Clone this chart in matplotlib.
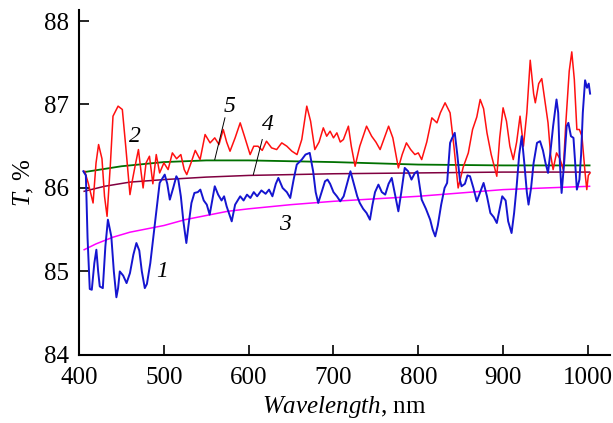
import matplotlib
matplotlib.use("Agg")
import matplotlib.pyplot as plt

plt.rcParams['font.family'] = ['Liberation Serif', 'DejaVu Serif']
plt.rcParams['mathtext.fontset'] = 'custom'
plt.rcParams['mathtext.rm'] = 'Liberation Serif'
plt.rcParams['mathtext.it'] = 'Liberation Serif:italic'

# curve 2 (red)
red_wl = [406.7, 411, 416.5, 420, 423, 427, 430, 433, 437, 440, 446, 451, 455, 460, 463, 466, 470, 473,
          475.5, 479, 483, 487, 491, 495, 500, 505, 510, 515, 520, 524, 527, 532, 537, 542.7, 548.6,
          554.5, 560, 565, 570, 574, 578, 584, 590, 595, 601.7, 606, 611, 616, 621, 627, 633, 639, 645,
          651, 657, 662.6, 668.5, 673, 678, 683, 688, 692, 696, 700, 704, 708, 711.7, 717.6, 721, 725.5,
          731, 735, 739, 745, 750, 755, 760, 765, 770, 776.5, 781, 786, 791, 796, 800, 804, 810, 816,
          822, 826, 831.6, 837.5, 842, 847, 853, 859, 864, 869, 873, 877, 881, 886, 892.6, 896, 900,
          904, 908, 912, 916, 920, 924, 928, 932, 936, 938, 942, 945.6, 950, 953, 956, 959, 963, 967,
          971, 974, 978, 981, 984, 987, 990, 993, 996.7, 998.7, 1000.5, 1002.6]
red_t = [86.20, 86.05, 85.82, 86.30, 86.52, 86.35, 85.90, 85.66, 86.30, 86.86, 86.98, 86.94, 86.50, 85.92,
         86.10, 86.26, 86.46, 86.20, 86.00, 86.30, 86.38, 86.05, 86.40, 86.18, 86.30, 86.22, 86.42, 86.35,
         86.40, 86.22, 86.16, 86.30, 86.45, 86.34, 86.64, 86.54, 86.60, 86.52, 86.70, 86.55, 86.44, 86.60,
         86.78, 86.62, 86.40, 86.50, 86.50, 86.45, 86.56, 86.48, 86.46, 86.54, 86.50, 86.44, 86.40, 86.58,
         86.98, 86.80, 86.46, 86.55, 86.72, 86.62, 86.68, 86.60, 86.66, 86.55, 86.58, 86.74, 86.50, 86.26,
         86.50, 86.62, 86.74, 86.62, 86.55, 86.46, 86.60, 86.74, 86.60, 86.24, 86.40, 86.54, 86.46, 86.40,
         86.42, 86.34, 86.55, 86.84, 86.78, 86.90, 87.02, 86.90, 86.50, 86.00, 86.25, 86.42, 86.70, 86.85,
         87.06, 86.95, 86.66, 86.40, 86.14, 86.60, 86.96, 86.80, 86.50, 86.34, 86.55, 86.86, 86.50, 86.90,
         87.53, 87.13, 87.02, 87.25, 87.31, 87.00, 86.78, 86.40, 86.22, 86.42, 86.35, 86.22, 86.78, 87.40,
         87.63, 87.30, 86.70, 86.70, 86.62, 86.18, 85.98, 86.15, 86.18]

# curve 1 (blue)
blue_wl = [405, 408, 410, 412.6, 415, 418, 420.4, 422.5, 424.4, 428, 431, 434, 438, 441, 444, 446, 448, 452,
           456, 460, 464, 467.6, 471, 474, 477.5, 480, 484, 489, 495, 501, 504, 507, 511, 514.7, 517, 520,
           523, 526.5, 529, 532.5, 536, 540, 543, 547, 550.6, 554, 557, 560, 564, 568, 571, 574, 580, 584,
           590, 594, 598, 602, 606, 610, 615, 620, 624, 628, 632, 635, 640, 645, 649, 653, 656.7, 662.6,
           667, 672, 676, 679, 682, 686, 690, 693, 696, 700, 704, 708, 712, 716, 720, 724, 728, 731, 735,
           739, 743, 746, 749, 753, 757, 761, 765, 768.7, 772, 776.5, 780, 784, 788, 792, 796, 799, 804,
           809, 814, 817, 820, 823, 827, 831, 834, 837.5, 840, 843, 846, 849, 851, 855, 858, 861, 865, 869,
           873, 877, 881, 885, 889, 892.6, 896, 899, 903, 906, 910, 913, 916, 919, 922, 925, 928, 930, 933,
           936, 940, 943.6, 947, 950, 953, 956, 959, 963, 965, 967, 969, 972, 975, 977, 980, 983, 985, 987,
           990, 992, 994, 996.7, 999, 1001, 1002.6]
blue_t = [86.20, 86.15, 85.40, 84.79, 84.78, 85.10, 85.26, 85.00, 84.82, 84.80, 85.30, 85.62, 85.42, 85.00,
          84.69, 84.80, 85.00, 84.95, 84.86, 84.98, 85.20, 85.34, 85.25, 85.00, 84.80, 84.85, 85.10, 85.54,
          86.06, 86.16, 86.05, 85.86, 86.00, 86.14, 86.10, 85.90, 85.60, 85.34, 85.55, 85.82, 85.94, 85.95,
          85.98, 85.85, 85.80, 85.68, 85.85, 86.02, 85.92, 85.85, 85.90, 85.78, 85.60, 85.80, 85.90, 85.85,
          85.92, 85.88, 85.95, 85.90, 85.97, 85.93, 85.98, 85.90, 86.05, 86.12, 86.00, 85.95, 85.88, 86.10,
          86.28, 86.34, 86.40, 86.42, 86.20, 85.95, 85.82, 85.95, 86.08, 86.10, 86.05, 85.95, 85.90, 85.84,
          85.90, 86.05, 86.20, 86.05, 85.90, 85.82, 85.75, 85.70, 85.62, 85.80, 85.95, 86.04, 85.95, 85.92,
          86.05, 86.12, 85.95, 85.72, 85.95, 86.24, 86.20, 86.10, 86.18, 86.20, 85.86, 85.75, 85.62, 85.50,
          85.42, 85.55, 85.80, 86.00, 86.06, 86.54, 86.60, 86.66, 86.40, 86.10, 86.02, 86.05, 86.15, 86.14,
          86.00, 85.84, 85.95, 86.06, 85.90, 85.70, 85.65, 85.58, 85.75, 85.90, 85.85, 85.60, 85.46, 85.70,
          86.02, 86.40, 86.62, 86.30, 85.95, 85.80, 86.00, 86.30, 86.54, 86.56, 86.45, 86.30, 86.18, 86.45,
          86.74, 87.06, 86.90, 86.30, 85.94, 86.30, 86.74, 86.78, 86.62, 86.60, 86.30, 85.98, 86.10, 86.40,
          86.90, 87.29, 87.20, 87.25, 87.13]

# curve 3 (magenta)
mag_wl = [406, 420, 440, 460, 480, 500, 525, 550, 575, 600, 650, 700, 750, 800, 850, 900, 950, 1002]
mag_t = [85.26, 85.33, 85.41, 85.47, 85.51, 85.55, 85.62, 85.67, 85.72, 85.75, 85.80, 85.84, 85.87, 85.90,
         85.94, 85.98, 86.00, 86.02]

# curve 4 (maroon)
mar_wl = [406, 430, 460, 500, 550, 600, 700, 800, 900, 1002]
mar_t = [85.96, 86.02, 86.07, 86.10, 86.13, 86.15, 86.17, 86.18, 86.19, 86.19]

# curve 5 (green)
grn_wl = [406, 450, 500, 550, 600, 700, 800, 900, 1002]
grn_t = [86.19, 86.26, 86.31, 86.33, 86.33, 86.31, 86.28, 86.27, 86.27]

fig = plt.figure(figsize=(6.13, 4.23), dpi=100)
ax = fig.add_axes([0.129, 0.161, 0.866, 0.815])

ax.plot(mag_wl, mag_t, color='#ff00ff', lw=1.1)
ax.plot(mar_wl, mar_t, color='#800040', lw=1.1)
ax.plot(grn_wl, grn_t, color='#007000', lw=1.3)
ax.plot(red_wl, red_t, color='#ff1010', lw=1.1)
ax.plot(blue_wl, blue_t, color='#1515d0', lw=1.4)

ax.set_xlim(400, 1026)
ax.set_ylim(84, 88.13)
ax.set_xticks([400, 500, 600, 700, 800, 900, 1000])
ax.set_yticks([84, 85, 86, 87, 88])
for s in ['top', 'right']:
    ax.spines[s].set_visible(False)
for s in ['left', 'bottom']:
    ax.spines[s].set_linewidth(1.5)
ax.tick_params(direction='in', length=7, width=1.2, labelsize=18)
ax.tick_params(axis='x', pad=9)
ax.tick_params(axis='y', pad=7)

ax.set_xlabel(r'$\mathit{Wavelength}$, nm', fontsize=18, labelpad=3)
ax.set_ylabel(r'$\mathit{T}$, %', fontsize=18, labelpad=6)

# curve numbers
lab = dict(fontsize=17, style='italic', ha='center', va='center')
ax.text(497.5, 85.0, '1', **lab)
ax.text(466, 86.62, '2', **lab)
ax.text(643, 85.56, '3', **lab)
ax.text(623, 86.76, '4', **lab)
ax.text(578, 86.97, '5', **lab)
ax.plot([572, 560], [86.84, 86.34], color='black', lw=0.7)
ax.plot([616, 605.5], [86.58, 86.16], color='black', lw=0.7)

fig.savefig('out.png', dpi=100)
